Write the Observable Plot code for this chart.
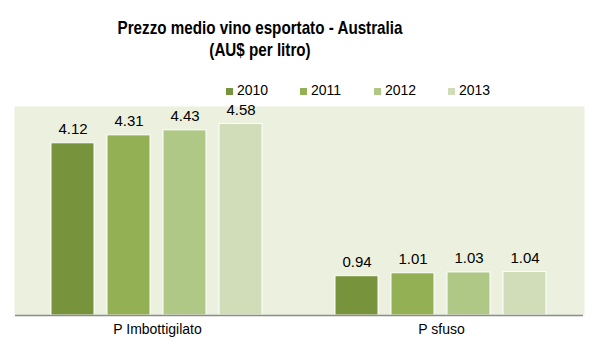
<!DOCTYPE html>
<html>
<head>
<meta charset="utf-8">
<script src="https://cdn.jsdelivr.net/npm/d3@7"></script>
<script src="https://cdn.jsdelivr.net/npm/@observablehq/plot@0.6"></script>
<style>
  html, body { margin: 0; padding: 0; background: #fff; }
  #wrap { position: relative; width: 599px; height: 351px; overflow: hidden; }
  #title { position: absolute; left: 0; width: 520px; top: 17px; text-align: center;
           font-family: "Liberation Sans Narrow", "Arial Narrow", "Liberation Sans", sans-serif;
           font-weight: bold; font-size: 19px; line-height: 22px; color: #000;
           transform: scaleX(0.8); transform-origin: 260px 0; }
  #legend { position: absolute; top: 82px; left: 226px; font-family: "Liberation Sans", Arial, sans-serif;
            font-size: 14px; color: #000; display: flex; }
  #legend .item { width: 74px; display: flex; align-items: center; }
  #legend .sw { width: 7px; height: 7px; margin-right: 4px; margin-top: 2px; }
  #chart { position: absolute; left: 0; top: 96px; }
</style>
</head>
<body>
<div id="wrap">
  <div id="title">Prezzo medio vino esportato - Australia<br>(AU$ per litro)</div>
  <div id="legend"></div>
  <div id="chart"></div>
</div>
<script>
const categories = ["P Imbottigilato", "P sfuso"];
const years = ["2010", "2011", "2012", "2013"];
const values2010 = [4.12, 0.94];
const values2011 = [4.31, 1.01];
const values2012 = [4.43, 1.03];
const values2013 = [4.58, 1.04];
const colors = ["#77933C", "#93B055", "#B0C886", "#D0DDB8"];

const series = [values2010, values2011, values2012, values2013];
const data = [];
categories.forEach((c, i) => {
  years.forEach((y, j) => data.push({category: c, year: y, value: series[j][i]}));
});

const legend = document.getElementById("legend");
years.forEach((y, j) => {
  const it = document.createElement("div");
  it.className = "item";
  it.innerHTML = `<span class="sw" style="background:${colors[j]}"></span><span>${y}</span>`;
  legend.appendChild(it);
});

const plot = Plot.plot({
  width: 599,
  height: 255,
  marginTop: 10,
  marginBottom: 36,
  marginLeft: 14,
  marginRight: 16,
  style: {fontFamily: "Liberation Sans, Arial, sans-serif", fontSize: "14px", color: "#000", background: "transparent"},
  fx: {domain: categories, padding: 0, label: null, axis: "bottom", tickSize: 0, tickPadding: 9},
  x: {domain: years, paddingInner: 0.228, paddingOuter: 0.614, axis: null},
  y: {domain: [0, 5], axis: null},
  color: {domain: years, range: colors},
  marks: [
    Plot.frame({fill: "#EBF1DE", stroke: null, insetLeft: -1, insetRight: -1}),
    Plot.barY(data, {fx: "category", x: "year", y: "value", fill: "year", stroke: "#fff", strokeWidth: 1}),
    Plot.text(data, {fx: "category", x: "year", y: "value", text: d => d.value.toFixed(2), dy: -14, fontSize: 15, fill: "#000"}),
    Plot.ruleY([0], {stroke: "#8c8c8c", strokeWidth: 1.5})
  ]
});
document.getElementById("chart").appendChild(plot);
</script>
</body>
</html>
